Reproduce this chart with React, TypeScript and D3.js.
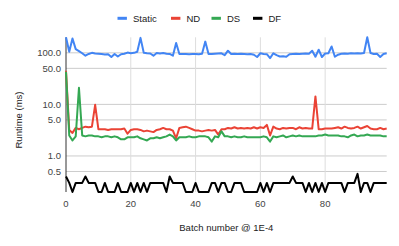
import React from 'react';
import * as d3 from 'd3';

// values (batch 0..99)
const staticMs = [
  200, 105, 190, 118, 108, 98, 88, 95, 100, 97,
  96, 95, 93, 94, 83, 95, 85, 94, 96, 101,
  98, 100, 105, 195, 100, 98, 97, 88, 99, 97,
  99, 96, 95, 88, 155, 95, 95, 95, 94, 95,
  95, 94, 96, 165, 95, 95, 96, 97, 98, 90,
  110, 95, 96, 95, 96, 95, 94, 95, 92, 83,
  98, 95, 94, 79, 98, 90, 85, 86, 84, 94,
  95, 96, 95, 96, 97, 96, 110, 84, 115, 83,
  97, 98, 133, 84, 92, 96, 97, 96, 98, 97,
  98, 97, 99, 200, 99, 95, 96, 83, 95, 98,
];
const ndMs = [
  45, 3.2, 2.8, 3.5, 3.3, 3.5, 3.7, 3.6, 3.7, 9.8,
  3.3, 3.3, 3.3, 3.2, 3.3, 3.3, 3.3, 3.3, 3.4, 2.7,
  3.2, 3.3, 3.3, 3.2, 3.0, 3.1, 3.0, 2.9, 3.2, 3.3,
  3.5, 3.3, 3.3, 3.1, 2.2, 3.5, 3.6, 3.7, 3.5, 3.3,
  3.1, 3.1, 3.0, 3.1, 3.2, 3.1, 3.2, 2.6, 3.3, 3.3,
  3.5, 3.4, 3.6, 3.4, 3.5, 3.4, 3.5, 3.4, 3.6, 3.4,
  3.6, 3.5, 4.0, 2.5, 3.7, 3.4, 3.3, 3.5, 3.4, 3.5,
  3.5, 3.3, 3.6, 3.4, 3.5, 3.4, 3.4, 14.3, 3.3, 3.3,
  3.4, 3.4, 3.4, 3.5, 3.6, 3.4, 3.7, 3.5, 3.4, 3.5,
  3.7, 3.4, 3.6, 3.8, 3.4, 3.3, 3.3, 3.5, 3.3, 3.4,
];
const dsMs = [
  43, 2.5, 2.0, 2.4, 21, 2.5, 2.4, 2.5, 2.5, 2.4,
  2.4, 2.3, 2.4, 2.4, 2.3, 2.4, 2.3, 2.1, 2.1, 2.3,
  2.3, 2.3, 2.4, 2.2, 2.1, 2.0, 2.2, 2.2, 2.3, 2.2,
  2.3, 2.4, 2.6, 2.4, 2.0, 2.3, 2.3, 2.3, 2.4, 2.3,
  2.3, 2.4, 2.4, 2.4, 2.3, 1.9, 2.4, 2.3, 3.0, 2.4,
  2.4, 2.3, 2.4, 2.3, 2.3, 2.4, 2.3, 2.3, 2.3, 2.3,
  2.3, 2.4, 2.3, 1.9, 2.4, 2.3, 2.4, 2.5, 2.3, 2.4,
  2.5, 2.4, 2.5, 2.4, 2.4, 2.4, 2.4, 2.4, 2.5, 2.5,
  2.6, 2.5, 2.5, 2.5, 2.5, 2.4, 2.4, 2.3, 2.5, 2.6,
  2.4, 2.5, 2.5, 2.6, 2.5, 2.5, 2.5, 2.5, 2.4, 2.4,
];
const dfMs = [
  0.4, 0.3, 0.2, 0.3, 0.3, 0.3, 0.4, 0.3, 0.3, 0.3,
  0.2, 0.2, 0.3, 0.2, 0.2, 0.2, 0.3, 0.2, 0.2, 0.2,
  0.3, 0.2, 0.3, 0.2, 0.3, 0.2, 0.3, 0.3, 0.3, 0.3,
  0.3, 0.2, 0.4, 0.3, 0.3, 0.3, 0.3, 0.2, 0.2, 0.2,
  0.3, 0.2, 0.2, 0.2, 0.2, 0.3, 0.3, 0.2, 0.3, 0.3,
  0.2, 0.2, 0.3, 0.3, 0.3, 0.2, 0.2, 0.2, 0.2, 0.2,
  0.3, 0.2, 0.3, 0.2, 0.3, 0.3, 0.3, 0.3, 0.3, 0.3,
  0.4, 0.3, 0.3, 0.3, 0.2, 0.3, 0.2, 0.3, 0.2, 0.3,
  0.2, 0.3, 0.3, 0.3, 0.3, 0.3, 0.2, 0.3, 0.3, 0.3,
  0.45, 0.2, 0.3, 0.3, 0.2, 0.3, 0.3, 0.3, 0.3, 0.3,
];

const seriesNames = ['Static', 'ND', 'DS', 'DF'];
const seriesColors = ['#4285f4', '#ea4335', '#34a853', '#000000'];
const seriesValues = [staticMs, ndMs, dsMs, dfMs];

const yTicks = [100, 50, 10, 5, 1, 0.5];
const xTicks = [0, 20, 40, 60, 80];

const W = 399;
const H = 246;
const FONT = '"Liberation Sans", Arial, sans-serif';

export default function App() {
  const margin = { top: 37.3, right: 12.3, bottom: 54, left: 66 };
  const innerW = W - margin.left - margin.right;
  const innerH = H - margin.top - margin.bottom;

  const x = d3.scaleLinear().domain([0, 99]).range([0, innerW]);
  const y = d3.scaleLog().domain([0.2, 200]).range([innerH, 0]);
  const fmt = d3.format('.1f');

  const line = d3.line<number>()
    .x((_, i) => x(i))
    .y(d => y(d));

  // legend layout (x of each marker)
  const legendX = [117.5, 171, 211.5, 253];

  return (
    <svg width={W} height={H} style={{ position: 'absolute', left: 0, top: 0 }} fontFamily={FONT}>
      <rect width={W} height={H} fill="#fff" />

      <g>
        {seriesNames.map((name, i) => (
          <g key={name} transform={`translate(${legendX[i]},18.3)`}>
            <rect x={0} y={-1.5} width={9.4} height={3} fill={seriesColors[i]} />
            <text x={15.5} dy="0.35em" fontSize={9.5} fill="#222">{name}</text>
          </g>
        ))}
      </g>

      <g transform={`translate(${margin.left},${margin.top})`}>
        <defs>
          <clipPath id="plot-clip">
            <rect x={-2} y={-2} width={innerW + 4} height={innerH + 4} />
          </clipPath>
        </defs>

        {yTicks.map(t => (
          <g key={t}>
            <line x1={0} x2={innerW} y1={y(t)} y2={y(t)} stroke="#ccc" strokeWidth={1} />
            <text x={-5} y={y(t)} dy="0.35em" textAnchor="end" fontSize={9.5} fill="#444">{fmt(t)}</text>
          </g>
        ))}

        {xTicks.map(t => (
          <g key={t}>
            {t !== 0 && <line x1={x(t)} x2={x(t)} y1={0} y2={innerH} stroke="#ddd" strokeWidth={1} />}
            <text x={x(t)} y={innerH + 15.5} textAnchor="middle" fontSize={9.5} fill="#444">{t}</text>
          </g>
        ))}

        <line x1={0} x2={0} y1={0} y2={innerH} stroke="#333" strokeWidth={1} />

        <g clipPath="url(#plot-clip)">
          {seriesValues.map((vals, i) => (
            <path key={seriesNames[i]} d={line(vals) ?? ''} fill="none"
              stroke={seriesColors[i]} strokeWidth={2} strokeLinejoin="round" />
          ))}
        </g>

        <text x={innerW / 2} y={innerH + 39.5} textAnchor="middle" fontSize={9.5} fill="#222">
          Batch number @ 1E-4
        </text>
      </g>

      <text transform="translate(21.5,120) rotate(-90)" textAnchor="middle" fontSize={9.5} fill="#222">
        Runtime (ms)
      </text>
    </svg>
  );
}
